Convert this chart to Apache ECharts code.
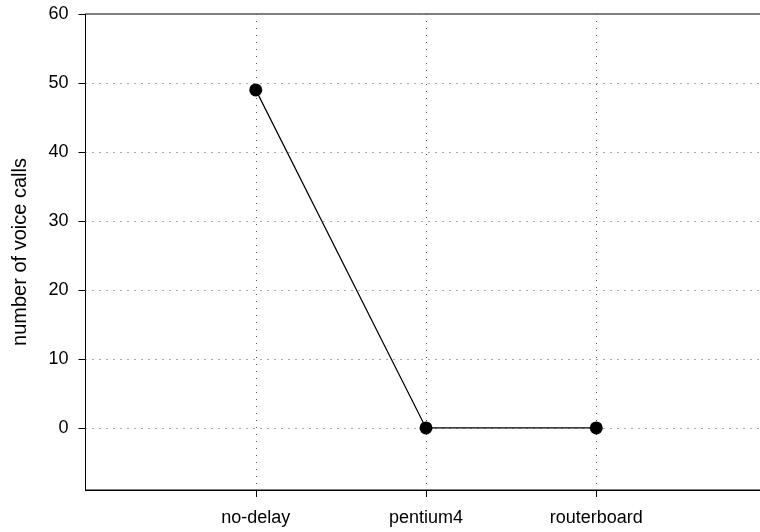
<!DOCTYPE html>
<html>
<head>
<meta charset="utf-8">
<script src="https://cdn.jsdelivr.net/npm/echarts@6/dist/echarts.min.js"></script>
<style>html,body{margin:0;padding:0;background:#fff;}#c{width:760px;height:532px;}</style>
</head>
<body>
<div id="c"></div>
<script>
var categories = ['no-delay', 'pentium4', 'routerboard'];
var voiceCalls = [49, 0, 0];
var yTicks = [0, 10, 20, 30, 40, 50, 60];

var chart = echarts.init(document.getElementById('c'), null, {renderer: 'canvas'});
var seriesData = categories.map(function (c, i) { return [i + 1, voiceCalls[i]]; });
var font = 'Liberation Sans, Arial, sans-serif';
chart.setOption({
  animation: false,
  backgroundColor: '#fff',
  grid: {left: 85.5, top: 14, width: 681, height: 476, outerBoundsMode: 'none', containLabel: false,
    show: true, borderColor: '#000', borderWidth: 1, backgroundColor: 'transparent'},
  xAxis: {
    type: 'value', min: 0, max: categories.length + 1, interval: 1,
    axisLine: {show: true, onZero: false, lineStyle: {color: '#000', width: 1}},
    axisTick: {show: true, length: 7, lineStyle: {color: '#000'}, customValues: [1, 2, 3]},
    axisLabel: {show: true, margin: 19, fontSize: 18, color: '#000', fontFamily: font, customValues: [1, 2, 3],
      formatter: function (v) { return categories[v - 1] || ''; }},
    splitLine: {show: true, lineStyle: {color: '#555', type: [1, 6], width: 1}}
  },
  yAxis: {
    type: 'value', min: -9, max: 60,
    name: 'number of voice calls', nameLocation: 'middle', nameGap: 55,
    nameTextStyle: {fontSize: 20, color: '#000', fontFamily: font},
    axisLine: {show: true, onZero: false, lineStyle: {color: '#000', width: 1}},
    axisTick: {show: true, length: 7, lineStyle: {color: '#000'}, customValues: yTicks},
    axisLabel: {show: true, margin: 17, fontSize: 18, color: '#000', fontFamily: font, customValues: yTicks},
    splitLine: {show: false}
  },
  series: [{
    type: 'line',
    data: seriesData,
    symbol: 'circle', symbolSize: 13,
    itemStyle: {color: '#000'},
    lineStyle: {color: '#000', width: 1.2},
    markLine: {
      silent: true, symbol: 'none', label: {show: false},
      lineStyle: {color: '#555', type: [1, 6], width: 1},
      data: yTicks.filter(function (v) { return v < 60; }).map(function (v) { return {yAxis: v}; })
    },
    z: 5
  }]
});
</script>
</body>
</html>
